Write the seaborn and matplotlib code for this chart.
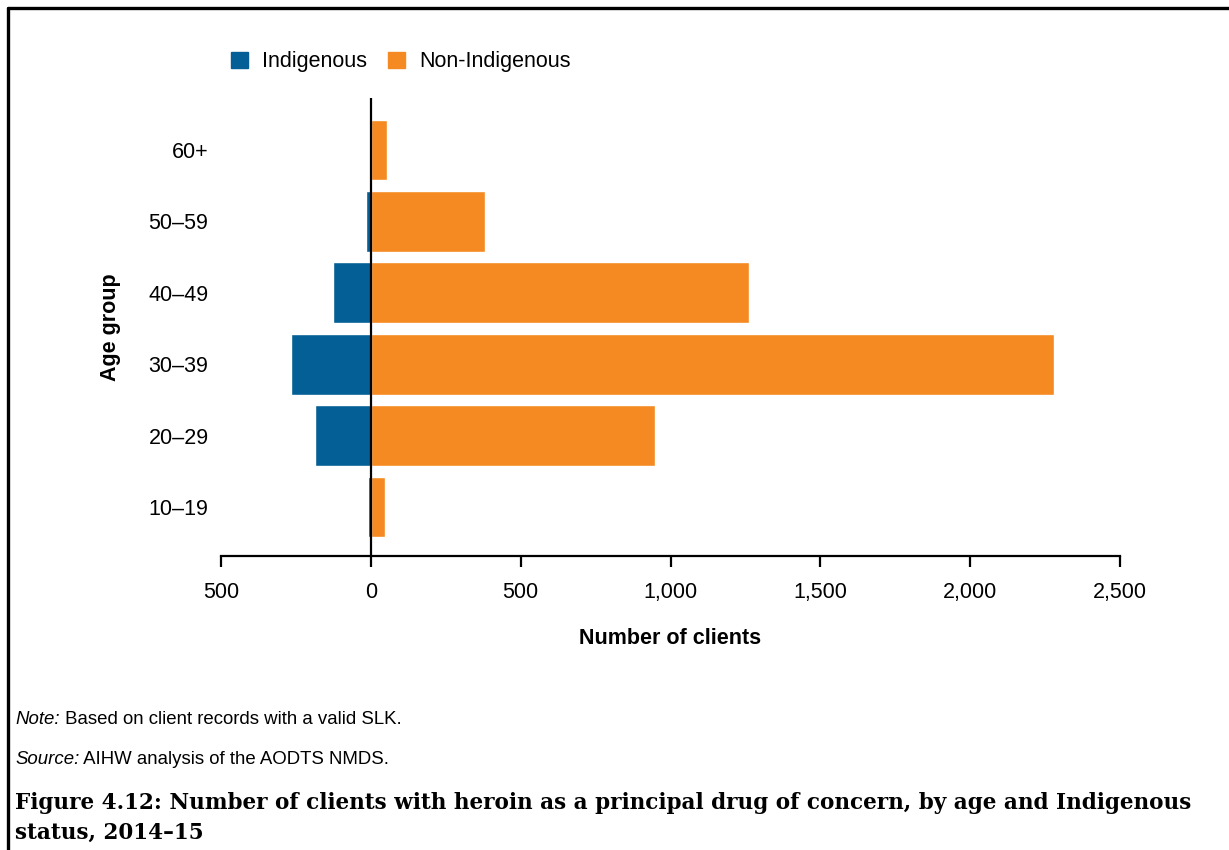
import pandas as pd
import matplotlib.pyplot as plt
import seaborn as sns
import matplotlib.patches as mpatches
from matplotlib.lines import Line2D

# data
age_groups = ["60+", "50–59", "40–49", "30–39", "20–29", "10–19"]
indigenous = [2, 17, 127, 267, 187, 10]
non_indigenous = [53, 380, 1261, 2279, 948, 47]
x_ticks = [-500, 0, 500, 1000, 1500, 2000, 2500]
x_tick_labels = ["500", "0", "500", "1,000", "1,500", "2,000", "2,500"]

blue = "#035F95"
orange = "#F48A21"

df = pd.DataFrame({
    "Age group": age_groups * 2,
    "Status": ["Indigenous"] * len(age_groups) + ["Non-Indigenous"] * len(age_groups),
    "Clients": [-v for v in indigenous] + non_indigenous,
})

sns.set_style("white")
plt.rcParams["font.family"] = ["Liberation Sans", "DejaVu Sans"]
plt.rcParams.update({"text.color": "black", "axes.labelcolor": "black",
                     "xtick.color": "black", "ytick.color": "black"})

fig = plt.figure(figsize=(12.29, 8.5), dpi=100)
ax = fig.add_axes([221 / 1229, 1 - 556 / 850, 899 / 1229, (556 - 98) / 850])

sns.barplot(data=df, y="Age group", x="Clients", hue="Status", order=age_groups,
            palette={"Indigenous": blue, "Non-Indigenous": orange},
            dodge=False, width=0.85, orient="h", legend=False, ax=ax, saturation=1)

ax.axvline(0, color="black", lw=1.6, zorder=5)
ax.set_xlim(-500, 2500)
ax.set_ylim(5.686, -0.728)
ax.set_xticks(x_ticks)
ax.set_xticklabels(x_tick_labels)

for side in ["top", "right", "left"]:
    ax.spines[side].set_visible(False)
ax.spines["bottom"].set_linewidth(1.6)
ax.spines["bottom"].set_color("black")
ax.tick_params(axis="x", length=8, width=1.6, pad=11, labelsize=15.5, direction="out", bottom=True)
ax.tick_params(axis="y", length=0, pad=9, labelsize=15.5)

ax.set_xlabel("Number of clients", fontsize=15.5, fontweight="bold", labelpad=18)
ax.set_ylabel("Age group", fontsize=15.5, fontweight="bold", labelpad=20)

# legend
handles = [mpatches.Patch(color=blue, label="Indigenous"),
           mpatches.Patch(color=orange, label="Non-Indigenous")]
fig.legend(handles=handles, loc="center left", bbox_to_anchor=(231 / 1229, 1 - 62 / 850),
           ncol=2, frameon=False, fontsize=15.5, handlelength=0.8, handleheight=0.8,
           handletextpad=0.65, columnspacing=0.95, borderpad=0, borderaxespad=0)

# frame lines
fig.add_artist(Line2D([8 / 1229, 1], [1 - 8 / 850, 1 - 8 / 850], color="black", lw=2.4,
                      transform=fig.transFigure))
fig.add_artist(Line2D([8 / 1229, 8 / 1229], [0, 1 - 8 / 850], color="black", lw=2.4,
                      transform=fig.transFigure))

# notes
t1 = fig.text(15 / 1229, 1 - 720 / 850, "Note:", style="italic", fontsize=13.4, va="center")
ax.annotate(" Based on client records with a valid SLK.", xy=(1, 0), xycoords=t1,
            va="bottom", ha="left", fontsize=13.4, annotation_clip=False)
t2 = fig.text(15 / 1229, 1 - 760 / 850, "Source:", style="italic", fontsize=13.4, va="center")
ax.annotate(" AIHW analysis of the AODTS NMDS.", xy=(1, 0), xycoords=t2,
            va="bottom", ha="left", fontsize=13.4, annotation_clip=False)

fig.text(15 / 1229, 1 - 792 / 850,
         "Figure 4.12: Number of clients with heroin as a principal drug of concern, by age and Indigenous\nstatus, 2014–15",
         family="DejaVu Serif", fontweight="bold", fontsize=15.5, va="top", linespacing=1.45)

plt.savefig("out.png", dpi=100)
